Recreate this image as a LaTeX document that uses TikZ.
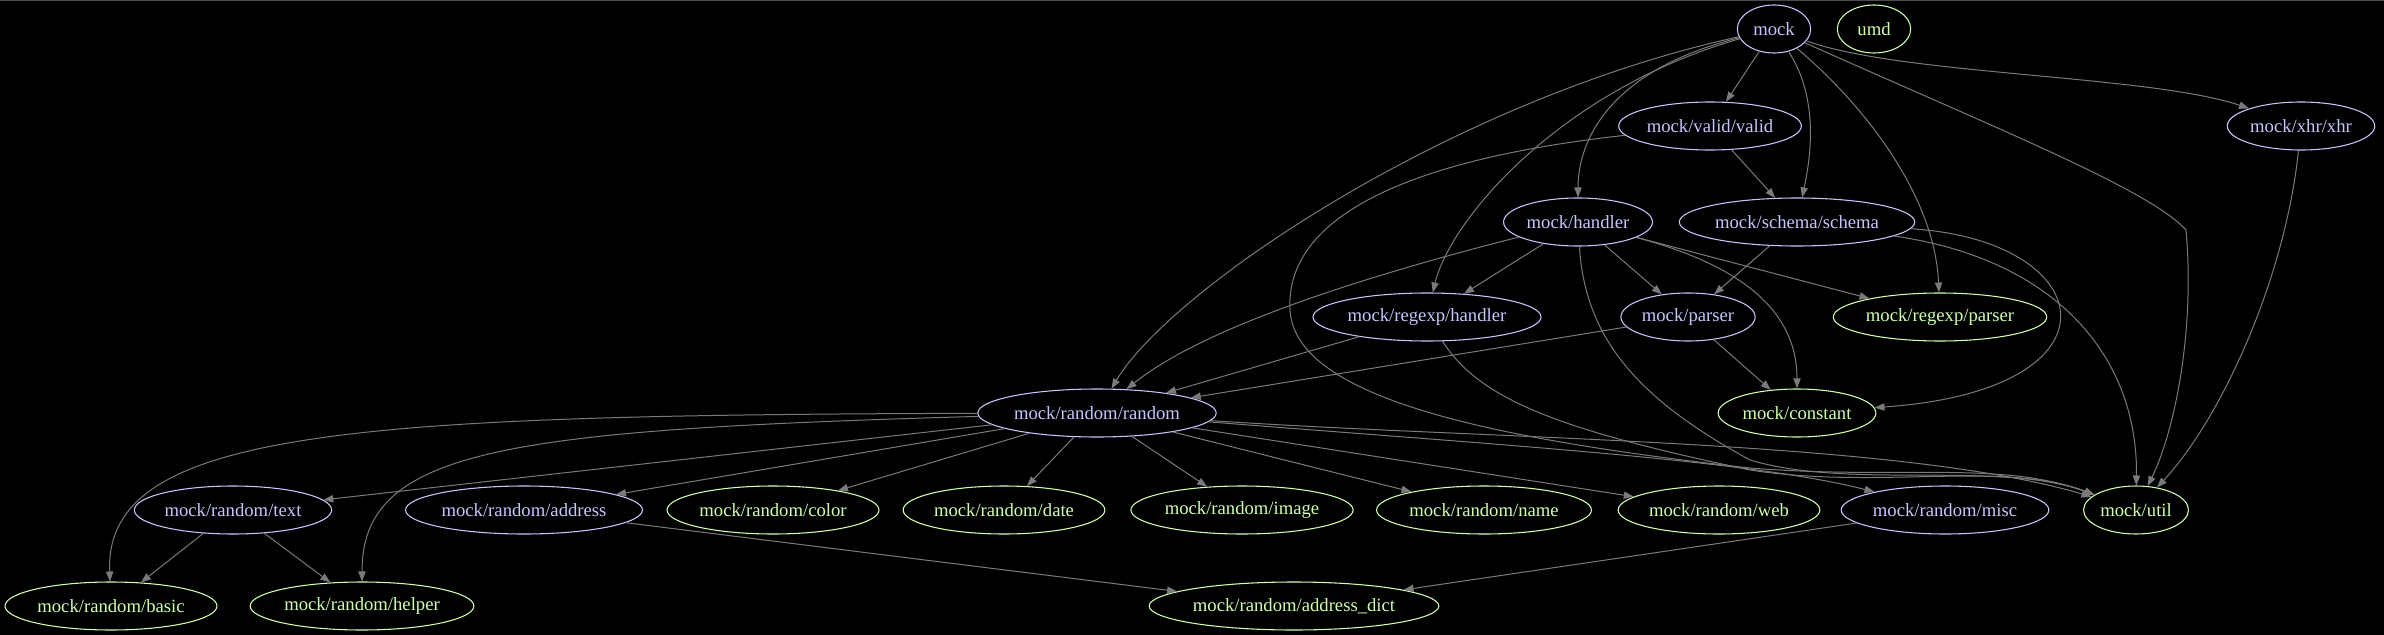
\documentclass[tikz,border=0pt]{standalone}
\usepackage{fontspec}
\setmainfont{Liberation Serif}
\usepackage{tikz}
\usetikzlibrary{shapes.geometric, arrows.meta}

\definecolor{depcol}{HTML}{C6C5FE}
\definecolor{leafcol}{HTML}{CFFFAC}
\definecolor{edgecol}{HTML}{7A7A7A}
\definecolor{framecol}{HTML}{4D4D4D}

\begin{document}
\begin{tikzpicture}[
    x=0.75pt, y=-0.75pt,
    module/.style={ellipse, line width=0.8pt, minimum height=36pt, minimum width=55pt, inner xsep=1pt, inner ysep=0pt, font=\fontsize{14pt}{16pt}\selectfont},
    dep/.style={module, draw=depcol, text=depcol},
    leaf/.style={module, draw=leafcol, text=leafcol},
    link/.style={-{Triangle[length=7.5pt, width=5.5pt]}, draw=edgecol, line width=0.75pt}
]
    \fill[black] (0,0) rectangle (2384,635);
    \useasboundingbox (0,0) rectangle (2384,635);
    \draw[framecol, line width=1.1pt] (0,0.7) -- (2384,0.7);

    % top ranks
    \node[dep] (mock) at (1774,29) {mock};
    \node[leaf] (umd) at (1874,29) {umd};
    \node[dep] (valid) at (1710,126) {mock/valid/valid};
    \node[dep] (xhr) at (2301,126) {mock/xhr/xhr};
    \node[dep] (handler) at (1578,222) {mock/handler};
    \node[dep] (schema) at (1797,222) {mock/schema/schema};
    \node[dep] (rxhandler) at (1427,317) {mock/regexp/handler};
    \node[dep] (parser) at (1688,317) {mock/parser};
    \node[leaf] (rxparser) at (1940,317) {mock/regexp/parser};
    \node[dep] (random) at (1097,413) {mock/random/random};
    \node[leaf] (constant) at (1797,413) {mock/constant};

    % random modules
    \node[dep] (text) at (233,510) {mock/random/text};
    \node[dep] (address) at (524,510) {mock/random/address};
    \node[leaf] (color) at (773,510) {mock/random/color};
    \node[leaf] (date) at (1004,510) {mock/random/date};
    \node[leaf] (image) at (1242,510) {mock/random/image};
    \node[leaf] (name) at (1484,510) {mock/random/name};
    \node[leaf] (web) at (1719,510) {mock/random/web};
    \node[dep] (misc) at (1945,510) {mock/random/misc};
    \node[leaf] (util) at (2136,510) {mock/util};
    \node[leaf] (basic) at (111,606) {mock/random/basic};
    \node[leaf] (helper) at (362,606) {mock/random/helper};
    \node[leaf] (adict) at (1294,606) {mock/random/address\_dict};

    % mock
    \draw[link] (mock) -- (valid);
    \draw[link] (mock) .. controls (1900,75) and (2150,75) .. (xhr);
    \draw[link] (mock) .. controls (1610,70) and (1578,140) .. (handler);
    \draw[link] (mock) .. controls (1820,100) and (1810,160) .. (schema);
    \draw[link] (mock) .. controls (1560,90) and (1450,220) .. (rxhandler);
    \draw[link] (mock) .. controls (1870,110) and (1935,200) .. (rxparser);
    \draw[link] (mock) .. controls (1450,100) and (1170,290) .. (random);
    \draw[link] (mock) .. controls (2000,130) and (2150,190) .. (2186,230) .. controls (2195,330) and (2175,430) .. (util);

    % valid, handler, schema
    \draw[link] (valid) -- (schema);
    \draw[link] (valid) .. controls (1400,160) and (1285,220) .. (1290,310) .. controls (1295,400) and (1500,440) .. (1750,468) .. controls (1900,480) and (2000,460) .. (util);
    \draw[link] (handler) .. controls (1350,280) and (1200,330) .. (random);
    \draw[link] (handler) -- (rxhandler);
    \draw[link] (handler) -- (parser);
    \draw[link] (handler) -- (rxparser);
    \draw[link] (handler) .. controls (1740,265) and (1797,310) .. (constant);
    \draw[link] (handler) .. controls (1585,340) and (1640,400) .. (1750,460) .. controls (1850,490) and (2000,460) .. (util);
    \draw[link] (schema) -- (parser);
    \draw[link] (schema) .. controls (2100,240) and (2130,390) .. (constant);
    \draw[link] (schema) .. controls (2060,260) and (2138,360) .. (util);
    \draw[link] (xhr) .. controls (2285,280) and (2220,420) .. (util);

    % regexp, parser
    \draw[link] (rxhandler) -- (random);
    \draw[link] (rxhandler) .. controls (1480,400) and (1560,430) .. (1750,470) .. controls (1880,490) and (2000,460) .. (util);
    \draw[link] (parser) -- (random);
    \draw[link] (parser) -- (constant);

    % random
    \draw[link] (random) .. controls (350,415) and (104,430) .. (basic);
    \draw[link] (random) .. controls (500,430) and (362,450) .. (helper);
    \draw[link] (random) -- (text);
    \draw[link] (random) -- (address);
    \draw[link] (random) -- (color);
    \draw[link] (random) -- (date);
    \draw[link] (random) -- (image);
    \draw[link] (random) -- (name);
    \draw[link] (random) -- (web);
    \draw[link] (random) .. controls (1500,445) and (1750,460) .. (misc);
    \draw[link] (random) .. controls (1500,440) and (1900,440) .. (util);
    \draw[link] (text) -- (basic);
    \draw[link] (text) -- (helper);
    \draw[link] (address) -- (adict);
    \draw[link] (misc) -- (adict);
\end{tikzpicture}
\end{document}
